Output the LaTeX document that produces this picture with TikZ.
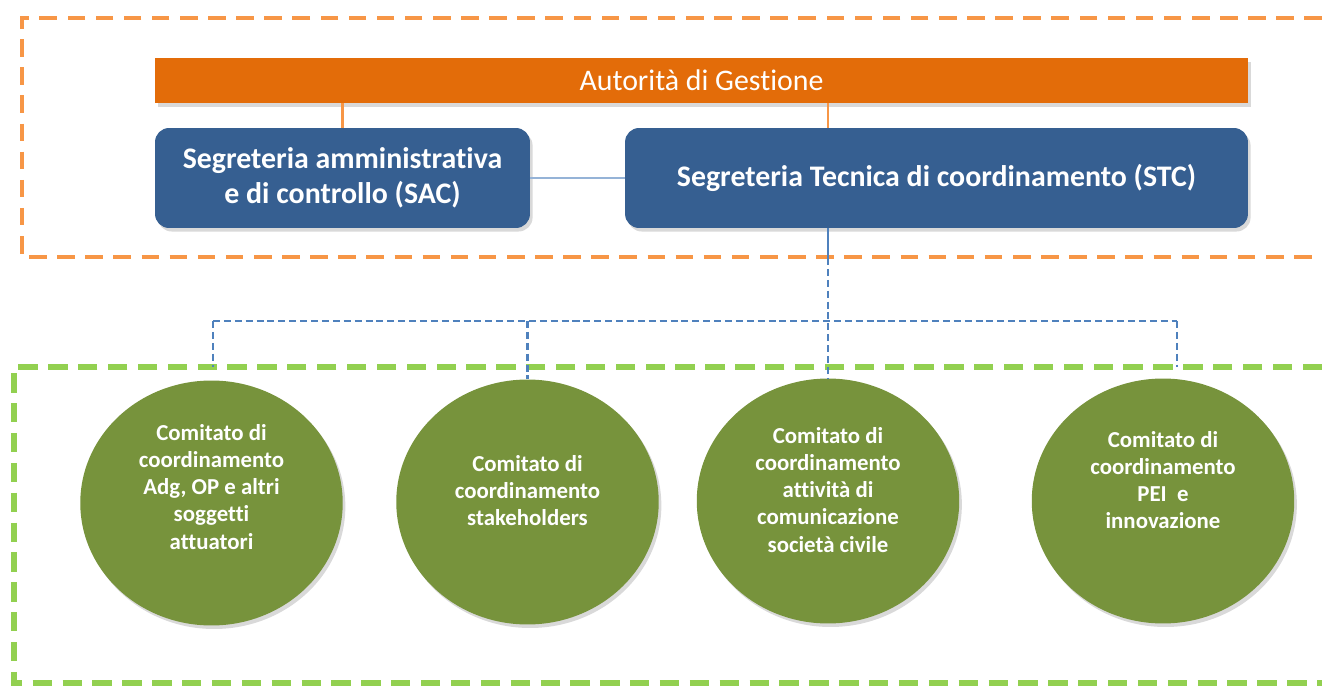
\documentclass[tikz,border=0pt]{standalone}
\usepackage{fontspec}
\setmainfont{Carlito}[Ligatures=NoCommon]
\usetikzlibrary{positioning,shapes.geometric,shadows}
\definecolor{BandOrange}{RGB}{227,108,9}
\definecolor{DashOrange}{RGB}{247,150,70}
\definecolor{BoxBlue}{RGB}{54,95,145}
\definecolor{LinkBlue}{RGB}{79,129,189}
\definecolor{PaleBlue}{RGB}{149,179,215}
\definecolor{CircleGreen}{RGB}{119,147,60}
\definecolor{DashGreen}{RGB}{146,208,80}

\begin{document}
\begin{tikzpicture}[x=0.02cm,y=-0.02cm,
    frame/.style={line width=2.8pt,dash pattern=on 10pt off 6pt},
    shade/.style={drop shadow={opacity=0.3,shadow xshift=1.5pt,shadow yshift=-2pt}},
    secbox/.style={rounded corners=8pt,fill=BoxBlue,text=white,shade,align=center,
      font=\fontsize{17}{20}\selectfont\bfseries,minimum height=2cm},
    comitato/.style={ellipse,fill=CircleGreen,shade,minimum width=5.25cm,minimum height=4.9cm},
    ctext/.style={text=white,align=center,font=\fontsize{13}{15.4}\selectfont\bfseries},
    link/.style={LinkBlue,line width=1.2pt,dash pattern=on 4pt off 2.2pt}]
  \useasboundingbox (0,0) rectangle (1322,686);

  % dashed frames, open on the right
  \draw[frame,DashOrange] (1322,18) -- (22,18) -- (22,257) -- (1322,257);
  \draw[frame,DashGreen,line width=3pt,dash pattern=on 11pt off 6pt] (1322,367) -- (14,367) -- (14,683) -- (1322,683);

  % top level
  \node[fill=BandOrange,shade,text=white,font=\fontsize{17}{20}\selectfont,
        minimum width=21.86cm,minimum height=0.9cm] (agest) at (701.5,80.5) {Autorità di Gestione};
  \node[secbox,minimum width=7.5cm] (sac) at (342.5,178) {Segreteria amministrativa\\e di controllo (SAC)};
  \node[secbox,minimum width=12.46cm] (stc) at (936.5,178) {Segreteria Tecnica di coordinamento (STC)};

  \coordinate (agtap) at (828,103);
  \draw[DashOrange,line width=1.2pt] (agest.south -| sac) -- (sac.north);
  \draw[DashOrange,line width=1.2pt] (agtap) -- (agtap |- stc.north);
  \draw[PaleBlue,line width=1pt] (sac) -- (stc);

  % committees
  \node[comitato] (com1) at (211.5,503) {};
  \node[comitato] (com2) at (527.5,502) {};
  \node[comitato] (com3) at (828,501) {};
  \node[comitato] (com4) at (1163,501) {};
  \node[ctext] (txt1) at ([yshift=0.32cm]com1.center) {Comitato di\\coordinamento\\Adg, OP e altri\\soggetti\\attuatori};
  \node[ctext] (txt2) at ([yshift=0.22cm]com2.center) {Comitato di\\coordinamento\\stakeholders};
  \node[ctext] (txt3) at ([yshift=0.22cm]com3.center) {Comitato di\\coordinamento\\attività di\\comunicazione\\società civile};
  \node[ctext] (txt4) at ([yshift=0.42cm]com4.center) {Comitato di\\coordinamento\\PEI~ e\\innovazione};

  % links STC -> committees
  \coordinate (stcout) at (828,258);
  \coordinate (hleft) at (213,321);
  \coordinate (hright) at (1177,321);
  \coordinate (dleft) at (213,367);
  \coordinate (dright) at (1177,367);
  \draw[LinkBlue,line width=1.2pt] (stcout |- stc.south) -- (stcout);
  \draw[link] (stcout) -- (com3.north);
  \draw[link] (hleft) -- (hright);
  \draw[link] (hleft) -- (dleft);
  \draw[link] (hright) -- (dright);
  \draw[link] (com2.north |- hleft) -- (com2.north);
\end{tikzpicture}
\end{document}
